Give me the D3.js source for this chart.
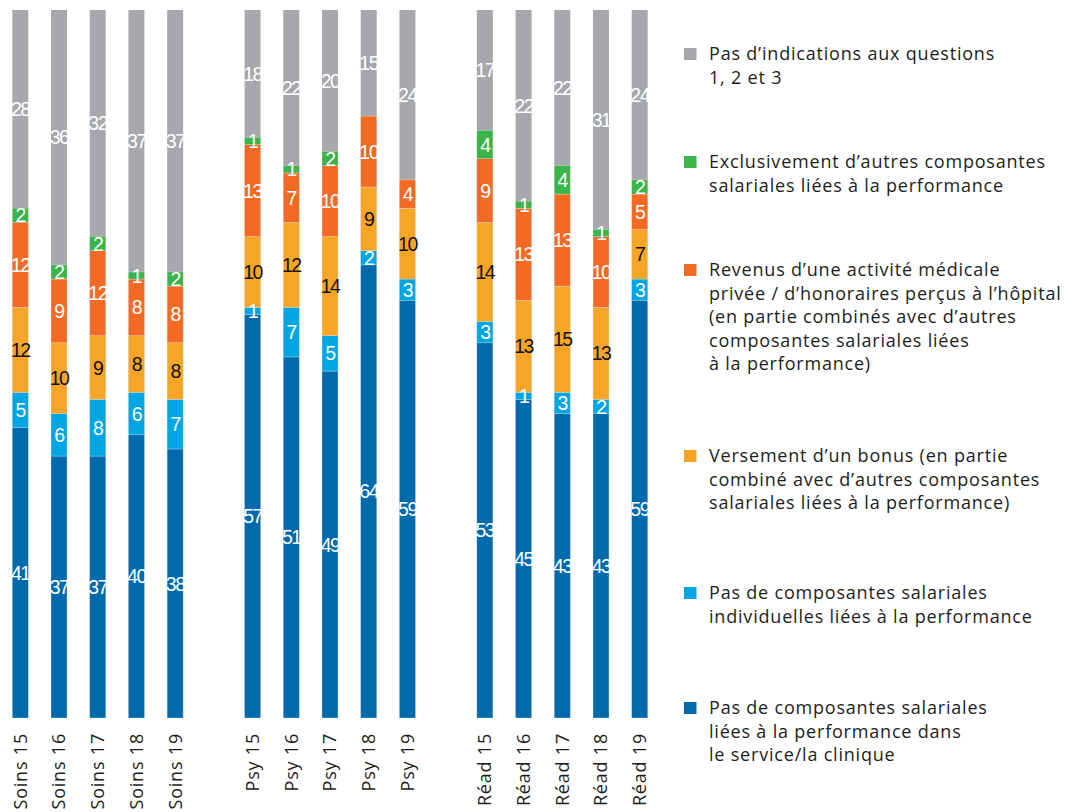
<!DOCTYPE html>
<html>
<head>
<meta charset="utf-8">
<script src="https://cdn.jsdelivr.net/npm/d3@7"></script>
<style>
  html, body { margin: 0; padding: 0; background: #ffffff; }
  svg { display: block; }
</style>
</head>
<body>
<svg id="chart" width="1068" height="812"></svg>
<script>
// ---------- DATA ----------
const categories = ["Soins 15","Soins 16","Soins 17","Soins 18","Soins 19",
                    "Psy 15","Psy 16","Psy 17","Psy 18","Psy 19",
                    "Réad 15","Réad 16","Réad 17","Réad 18","Réad 19"];
const slots = ["Soins 15","Soins 16","Soins 17","Soins 18","Soins 19","gap1",
               "Psy 15","Psy 16","Psy 17","Psy 18","Psy 19","gap2",
               "Réad 15","Réad 16","Réad 17","Réad 18","Réad 19"];
// series, bottom to top
const noneService   = [41,37,37,40,38, 57,51,49,64,59, 53,45,43,43,59];
const noIndividual  = [5,6,8,6,7,      1,7,5,2,3,      3,1,3,2,3];
const bonus         = [12,10,9,8,8,    10,12,14,9,10,  14,13,15,13,7];
const privateIncome = [12,9,12,8,8,    13,7,10,10,4,   9,13,13,10,5];
const otherOnly     = [2,2,2,1,2,      1,1,2,0,0,      4,1,4,1,2];
const noAnswer      = [28,36,32,37,37, 18,22,20,15,24, 17,22,22,31,24];

const seriesNames = [
  "Pas de composantes salariales liées à la performance dans le service/la clinique",
  "Pas de composantes salariales individuelles liées à la performance",
  "Versement d’un bonus (en partie combiné avec d’autres composantes salariales liées à la performance)",
  "Revenus d’une activité médicale privée / d’honoraires perçus à l’hôpital (en partie combinés avec d’autres composantes salariales liées à la performance)",
  "Exclusivement d’autres composantes salariales liées à la performance",
  "Pas d’indications aux questions 1, 2 et 3"
];
const seriesColors = ["#006aad","#00a6e3","#f7a526","#f36a25","#3bb44a","#a7a8ac"];
const labelColors  = ["#ffffff","#ffffff","#111111","#ffffff","#ffffff","#ffffff"];

// legend (top to bottom), lines as displayed
const legendLines = [
  ["Pas d’indications aux questions","1, 2 et 3"],
  ["Exclusivement d’autres composantes","salariales liées à la performance"],
  ["Revenus d’une activité médicale","privée / d’honoraires perçus à l’hôpital","(en partie combinés avec d’autres","composantes salariales liées","à la performance)"],
  ["Versement d’un bonus (en partie","combiné avec d’autres composantes","salariales liées à la performance)"],
  ["Pas de composantes salariales","individuelles liées à la performance"],
  ["Pas de composantes salariales","liées à la performance dans","le service/la clinique"]
];
const legendSeriesIndex = [5,4,3,2,1,0];

// ---------- LAYOUT ----------
const svg = d3.select("#chart");
const plotTop = 10, plotBottom = 718;
const x = d3.scaleBand().domain(slots).range([12.3, 647.7]).paddingInner(0.587).paddingOuter(0);
const y = d3.scaleLinear().domain([0, 100]).range([plotBottom, plotTop]);

const seriesValues = [noneService, noIndividual, bonus, privateIncome, otherOnly, noAnswer];
const rows = categories.map((c, i) => {
  const r = { cat: c };
  seriesValues.forEach((s, k) => r["s" + k] = s[i]);
  return r;
});
const keys = seriesValues.map((s, k) => "s" + k);
const stacked = d3.stack().keys(keys.slice(0, 5))(rows);

const g = svg.append("g");

// gray "no answer" fills remaining part of each bar to 100 %
g.selectAll("rect.bg").data(rows).join("rect")
  .attr("class", "bg")
  .attr("x", d => x(d.cat))
  .attr("width", x.bandwidth())
  .attr("y", y(100))
  .attr("height", y(0) - y(100))
  .attr("fill", seriesColors[5]);

stacked.forEach((layer, k) => {
  g.append("g").selectAll("rect").data(layer).join("rect")
    .attr("x", d => x(d.data.cat))
    .attr("width", x.bandwidth())
    .attr("y", d => y(d[1]))
    .attr("height", d => Math.max(0, y(d[0]) - y(d[1])))
    .attr("fill", seriesColors[k])
    .attr("stroke", "rgba(255,255,255,0.45)")
    .attr("stroke-width", 0.6);
});

// labels
const labelFont = "'Liberation Sans', Arial, sans-serif";
stacked.forEach((layer, k) => {
  g.append("g").selectAll("text").data(layer.filter(d => d[1] - d[0] > 0)).join("text")
    .attr("x", d => x(d.data.cat) + x.bandwidth() / 2)
    .attr("y", d => (y(d[0]) + y(d[1])) / 2)
    .attr("dy", "0.36em")
    .attr("text-anchor", "middle")
    .attr("font-family", labelFont)
    .attr("font-size", 19.5)
    .attr("letter-spacing", -1.5)
    .attr("fill", labelColors[k])
    .text(d => d[1] - d[0]);
});
// gray labels: centre of remaining gray area
g.append("g").selectAll("text").data(rows).join("text")
  .attr("x", d => x(d.cat) + x.bandwidth() / 2)
  .attr("y", (d, i) => (y(100) + y(stacked[4][i][1])) / 2)
  .attr("dy", "0.36em")
  .attr("text-anchor", "middle")
  .attr("font-family", labelFont)
  .attr("font-size", 19.5)
  .attr("letter-spacing", -1.5)
  .attr("fill", "#ffffff")
  .text(d => d.s5);

// x axis labels (rotated, reading bottom-to-top, top-aligned under the bars)
const axis = d3.axisBottom(x).tickSize(0).tickFormat(d => d.startsWith("gap") ? "" : d);
const ax = svg.append("g").attr("transform", `translate(0,${plotBottom})`).call(axis);
ax.select(".domain").remove();
ax.selectAll(".tick text")
  .attr("font-family", "'Open Sans', sans-serif")
  .attr("font-size", 18)
  .attr("letter-spacing", 0.8)
  .attr("fill", "#1d1d1b")
  .attr("text-anchor", "end")
  .attr("transform", "rotate(-90)")
  .attr("x", -15)
  .attr("y", 0)
  .attr("dy", "0.36em");

// legend
const legendX = 684, legendTextX = 709;
const legendY = [54, 162, 270, 456, 593, 708];
const lg = svg.append("g");
legendLines.forEach((lines, i) => {
  const item = lg.append("g");
  item.append("rect")
    .attr("x", legendX).attr("y", legendY[i] - 6)
    .attr("width", 12.5).attr("height", 12)
    .attr("fill", seriesColors[legendSeriesIndex[i]]);
  item.append("text")
    .attr("font-family", "'Open Sans', sans-serif")
    .attr("font-size", 18)
    .attr("letter-spacing", 0.8)
    .attr("fill", "#1d1d1b")
    .selectAll("tspan").data(lines).join("tspan")
    .attr("x", legendTextX)
    .attr("y", (d, j) => legendY[i] + j * 23.5)
    .attr("dy", "0.36em")
    .text(d => d);
});
</script>
</body>
</html>
